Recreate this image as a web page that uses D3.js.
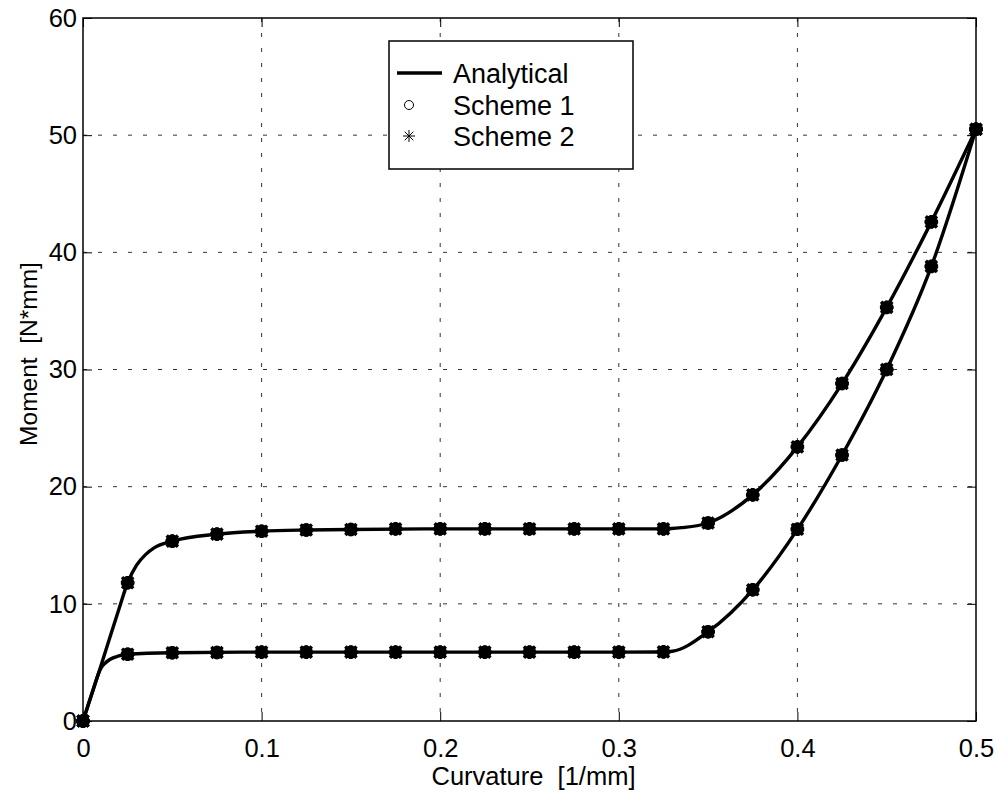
<!DOCTYPE html>
<html><head><meta charset="utf-8">
<script src="https://cdn.jsdelivr.net/npm/d3@7"></script>
<style>body{margin:0;background:#fff}svg{display:block}text{font-family:Arial,"Liberation Sans",sans-serif;fill:#000}</style>
</head><body>
<svg id="c" width="1000" height="792"></svg>
<script>
// Sample curvatures (markers)
const curvature = [0,0.025,0.05,0.075,0.1,0.125,0.15,0.175,0.2,0.225,0.25,0.275,0.3,0.325,0.35,0.375,0.4,0.425,0.45,0.475,0.5];
// Upper branch (loading) – Scheme 1 & 2 nearly identical
const upperScheme1 = [0,11.8,15.35,15.95,16.2,16.3,16.35,16.4,16.4,16.4,16.4,16.4,16.4,16.4,16.9,19.3,23.4,28.8,35.3,42.6,50.5];
const upperScheme2 = [0,11.8,15.35,15.95,16.2,16.3,16.35,16.4,16.4,16.4,16.4,16.4,16.4,16.4,16.9,19.3,23.4,28.8,35.3,42.6,50.5];
// Lower branch (unloading)
const lowerScheme1 = [0,5.7,5.83,5.85,5.88,5.88,5.88,5.88,5.88,5.88,5.88,5.88,5.88,5.9,7.62,11.2,16.36,22.7,30.0,38.8,50.5];
const lowerScheme2 = [0,5.7,5.83,5.85,5.88,5.88,5.88,5.88,5.88,5.88,5.88,5.88,5.88,5.9,7.62,11.2,16.36,22.7,30.0,38.8,50.5];
// Analytical curves (denser)
const upperAnalyticalX = [0,0.01,0.02,0.025,0.03,0.035,0.04,0.05,0.075,0.1,0.125,0.15,0.2,0.25,0.3,0.325,0.335,0.35,0.375,0.4,0.425,0.45,0.475,0.5];
const upperAnalyticalY = [0,4.7,9.5,11.8,13.3,14.2,14.8,15.35,15.95,16.2,16.3,16.35,16.4,16.4,16.4,16.4,16.5,16.9,19.3,23.4,28.8,35.3,42.6,50.5];
const lowerAnalyticalX = [0,0.005,0.01,0.0125,0.015,0.02,0.025,0.05,0.1,0.2,0.3,0.325,0.33,0.35,0.375,0.4,0.425,0.45,0.475,0.5];
const lowerAnalyticalY = [0,2.35,4.5,4.95,5.25,5.55,5.7,5.83,5.88,5.88,5.88,5.9,5.95,7.62,11.2,16.36,22.7,30.0,38.8,50.5];
const xTicks = [0,0.1,0.2,0.3,0.4,0.5];
const xTickLabels = ["0","0.1","0.2","0.3","0.4","0.5"];
const yTicks = [0,10,20,30,40,50,60];
const yTickLabels = ["0","10","20","30","40","50","60"];
const legendLabels = ["Analytical","Scheme 1","Scheme 2"];

const svg = d3.select("#c");
const L=83, R=976, T=18, B=721;
const x = d3.scaleLinear().domain([0,0.5]).range([L,R]);
const y = d3.scaleLinear().domain([0,60]).range([B,T]);

// grid
const grid = svg.append("g").attr("stroke","#333").attr("stroke-width",1).attr("stroke-dasharray","4,11");
xTicks.slice(1,-1).forEach(t=>grid.append("line").attr("x1",x(t)).attr("x2",x(t)).attr("y1",T).attr("y2",B));
yTicks.slice(1,-1).forEach(t=>grid.append("line").attr("x1",L).attr("x2",R).attr("y1",y(t)).attr("y2",y(t)));

// axes
const fs = 25.5;
const xa = svg.append("g").attr("transform",`translate(0,${B})`)
  .call(d3.axisBottom(x).tickValues(xTicks).tickFormat((d,i)=>xTickLabels[i]).tickSize(-9).tickPadding(18));
const ya = svg.append("g").attr("transform",`translate(${L},0)`)
  .call(d3.axisLeft(y).tickValues(yTicks).tickFormat((d,i)=>yTickLabels[i]).tickSize(-9).tickPadding(6));
const xt = svg.append("g").attr("transform",`translate(0,${T})`)
  .call(d3.axisTop(x).tickValues(xTicks).tickFormat("").tickSize(-9));
const yr = svg.append("g").attr("transform",`translate(${R},0)`)
  .call(d3.axisRight(y).tickValues(yTicks).tickFormat("").tickSize(-9));
[xa,ya,xt,yr].forEach(g=>{
  g.select(".domain").remove();
  g.selectAll("line").attr("stroke","#000").attr("stroke-width",1);
  g.selectAll("text").attr("font-size",fs).attr("font-family","Arial, 'Liberation Sans', sans-serif").attr("fill","#000");
});
svg.append("rect").attr("x",L).attr("y",T).attr("width",R-L).attr("height",B-T)
  .attr("fill","none").attr("stroke","#000").attr("stroke-width",1.5);

// analytical lines
const line = d3.line().x(d=>x(d[0])).y(d=>y(d[1])).curve(d3.curveMonotoneX);
const curves = [d3.zip(upperAnalyticalX,upperAnalyticalY), d3.zip(lowerAnalyticalX,lowerAnalyticalY)];
svg.append("g").selectAll("path").data(curves).join("path")
  .attr("d",line).attr("fill","none").attr("stroke","#000").attr("stroke-width",3.4).attr("stroke-linejoin","round");

// markers
const star = (g,cx,cy,s,dd,w)=>{
  const p = `M${cx-s},${cy}H${cx+s}M${cx},${cy-s}V${cy+s}M${cx-dd},${cy-dd}L${cx+dd},${cy+dd}M${cx-dd},${cy+dd}L${cx+dd},${cy-dd}`;
  g.append("path").attr("d",p).attr("stroke","#000").attr("stroke-width",w).attr("fill","none");
};
const mk = svg.append("g");
[upperScheme1,lowerScheme1].forEach(arr=>{
  curvature.forEach((c,i)=>mk.append("circle").attr("cx",x(c)).attr("cy",y(arr[i])).attr("r",5.2)
    .attr("fill","#000").attr("stroke","#000").attr("stroke-width",3));
});
[upperScheme2,lowerScheme2].forEach(arr=>{
  curvature.forEach((c,i)=>star(mk,x(c),y(arr[i]),6.8,5.6,3.4));
});

// axis labels
svg.append("text").attr("x",(L+R)/2+4).attr("y",785).attr("text-anchor","middle").attr("font-size",fs)
  .text("Curvature\u00a0\u00a0[1/mm]");
svg.append("text").attr("transform","translate(37,354) rotate(-90)").attr("text-anchor","middle").attr("font-size",24.5)
  .text("Moment\u00a0\u00a0[N*mm]");

// legend
const lg = svg.append("g");
lg.append("rect").attr("x",389).attr("y",41).attr("width",244).attr("height",128)
  .attr("fill","#fff").attr("stroke","#000").attr("stroke-width",1.5);
const ly = [73,105,136];
lg.append("line").attr("x1",397).attr("x2",442).attr("y1",ly[0]).attr("y2",ly[0]).attr("stroke","#000").attr("stroke-width",3.4);
lg.append("circle").attr("cx",409).attr("cy",ly[1]).attr("r",4.5).attr("fill","none").attr("stroke","#000").attr("stroke-width",1);
star(lg,409,ly[2],6,4.3,1);
legendLabels.forEach((t,i)=>lg.append("text").attr("x",453).attr("y",ly[i]+10).attr("font-size",27).text(t));
</script>
</body></html>
